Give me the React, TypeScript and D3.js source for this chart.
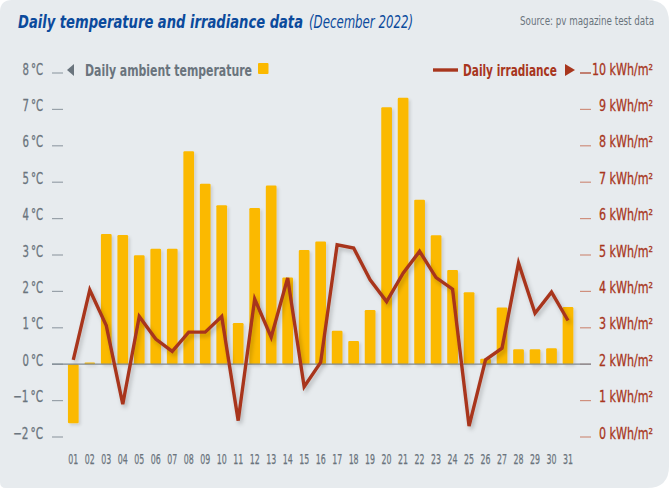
import React from "react";
import * as d3 from "d3";

const days = ["01","02","03","04","05","06","07","08","09","10","11","12","13","14","15","16","17","18","19","20","21","22","23","24","25","26","27","28","29","30","31"];
const temperature = [-1.62,0.05,3.58,3.55,2.99,3.17,3.17,5.85,4.96,4.37,1.13,4.29,4.91,2.38,3.14,3.37,0.92,0.64,1.49,7.06,7.32,4.52,3.54,2.59,1.98,0.15,1.56,0.41,0.41,0.44,1.57];
const irradiance = [2.12,4.04,3.06,0.9,3.31,2.69,2.35,2.88,2.88,3.31,0.45,3.79,2.74,4.37,1.38,2.05,5.28,5.19,4.32,3.72,4.5,5.1,4.38,4.06,0.3,2.12,2.44,4.78,3.4,3.98,3.2];
const tempTicks = [-2,-1,0,1,2,3,4,5,6,7,8];
const irrTicks = [0,1,2,3,4,5,6,7,8,9,10];

const W = 669, H = 488;
const FONT = "'DejaVu Sans Condensed', 'Open Sans', sans-serif";
const BLUE = "#0b4a9c";
const GRAY = "#6a747d";
const RED = "#a8361d";
const YELLOW = "#fbb900";
const BG = "#e7ebee";

function cardPath() {
  const tl = 12, tr = 22, br = 22, bl = 6;
  return `M${tl},0 H${W - tr} Q${W},0 ${W},${tr} V${H - br} Q${W},${H} ${W - br},${H} H${bl} Q0,${H} 0,${H - bl} V${tl} Q0,0 ${tl},0 Z`;
}

export default function App() {
  const step = (568 - 73.3) / 30;
  const x = d3.scaleBand<string>().domain(days).range([73.3 - step / 2, 568 + step / 2]).paddingInner(0.35).paddingOuter(0.175);
  const yT = d3.scaleLinear().domain([-2, 8]).range([437, 73]);
  const yI = d3.scaleLinear().domain([0, 10]).range([437, 73]);
  const cx = (d: string) => (x(d) as number) + x.bandwidth() / 2;
  const line = d3.line<number>().x((_, i) => cx(days[i])).y((v) => yI(v)).curve(d3.curveLinear);

  return (
    <svg width={W} height={H} style={{ position: "absolute", left: 0, top: 0 }} fontFamily={FONT}>
      <defs>
        <filter id="sh" x="-20%" y="-20%" width="140%" height="140%">
          <feDropShadow dx="2" dy="3" stdDeviation="2" floodColor="#000" floodOpacity="0.22" />
        </filter>
        <filter id="shb" x="-30%" y="-10%" width="160%" height="120%">
          <feDropShadow dx="2" dy="2" stdDeviation="1.5" floodColor="#000" floodOpacity="0.12" />
        </filter>
      </defs>
      <rect width={W} height={H} fill="#ffffff" />
      <path d={cardPath()} fill={BG} />

      {/* Title */}
      <text x={18} y={28} fill={BLUE} fontSize={18} fontWeight="bold" fontStyle="italic" textLength={285} lengthAdjust="spacingAndGlyphs">Daily temperature and irradiance data</text>
      <text x={309} y={28} fill={BLUE} fontSize={17} fontStyle="italic" textLength={104} lengthAdjust="spacingAndGlyphs">(December 2022)</text>
      <text x={654} y={25} fill={GRAY} fontSize={12.5} textAnchor="end" textLength={134} lengthAdjust="spacingAndGlyphs">Source: pv magazine test data</text>

      {/* Left axis */}
      {tempTicks.map((t) => (
        <g key={"lt" + t}>
          <line x1={52} x2={63} y1={yT(t)} y2={yT(t)} stroke="#98a1a9" strokeWidth={1.2} />
          <text x={43} y={yT(t) + 1.5} fill={GRAY} stroke={GRAY} strokeWidth={0.3} fontSize={16} textAnchor="end" textLength={t < 0 ? 30 : 20.5} lengthAdjust="spacingAndGlyphs">{(t < 0 ? "\u2212" + Math.abs(t) : String(t)) + "\u2009°C"}</text>
        </g>
      ))}
      {/* Right axis */}
      {irrTicks.map((t) => (
        <g key={"rt" + t}>
          <line x1={580} x2={591} y1={yI(t)} y2={yI(t)} stroke={t === 10 ? RED : "#cf8f7d"} strokeWidth={1.2} />
          <text x={653} y={yI(t) + 1.5} fill={RED} stroke={RED} strokeWidth={0.3} fontSize={16} textAnchor="end" textLength={String(t).length * 7 + 47} lengthAdjust="spacingAndGlyphs">
            {t + " kWh/m²"}
          </text>
        </g>
      ))}

      {/* Bars */}
      <g filter="url(#shb)">
        {temperature.map((v, i) => (
          <rect key={"b" + i} x={x(days[i])} width={x.bandwidth()} y={yT(Math.max(0, v))} height={Math.abs(yT(v) - yT(0))} fill={YELLOW} rx={1.2} />
        ))}
      </g>
      {/* Baseline */}
      <line x1={52} x2={591} y1={yT(0)} y2={yT(0)} stroke="#7f8992" strokeWidth={1.2} />

      {/* Irradiance line */}
      <path d={line(irradiance) || ""} fill="none" stroke={RED} strokeWidth={3.4} strokeLinejoin="miter" filter="url(#sh)" />

      {/* X labels */}
      {days.map((d) => (
        <text key={"x" + d} x={cx(d)} y={464} fill={GRAY} stroke={GRAY} strokeWidth={0.25} fontSize={14} textAnchor="middle" textLength={10} lengthAdjust="spacingAndGlyphs">{d}</text>
      ))}

      {/* Legend left */}
      <path d="M67,70 L74,64 L74,76 Z" fill={GRAY} />
      <text x={85} y={75.5} fill={GRAY} fontSize={16.5} fontWeight="bold" textLength={167} lengthAdjust="spacingAndGlyphs">Daily ambient temperature</text>
      <rect x={258} y={63} width={10.5} height={11} fill={YELLOW} rx={1} />

      {/* Legend right */}
      <line x1={433} x2={458} y1={70} y2={70} stroke={RED} strokeWidth={3.4} />
      <text x={463} y={75.5} fill={RED} fontSize={16.5} fontWeight="bold" textLength={94} lengthAdjust="spacingAndGlyphs">Daily irradiance</text>
      <path d="M565,64 L575,70 L565,76 Z" fill={RED} />
    </svg>
  );
}
